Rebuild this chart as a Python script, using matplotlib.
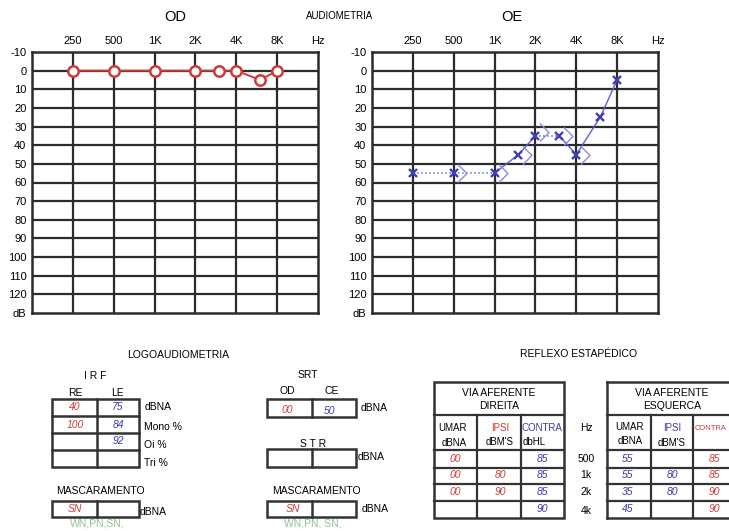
import numpy as np
import matplotlib
matplotlib.use("Agg")
import matplotlib.pyplot as plt
from matplotlib.path import Path
from matplotlib.patches import Rectangle
import matplotlib.transforms as mtransforms

plt.rcParams['font.family'] = ['Liberation Sans', 'DejaVu Sans']

# ---------------- data ----------------
freq_ticks = [250, 500, 1000, 2000, 4000, 8000]
freq_labels = ['250', '500', '1K', '2K', '4K', '8K']
db_ticks = list(range(-10, 130, 10))

od_freqs = [250, 500, 1000, 2000, 3000, 4000, 6000, 8000]
od_db = [0, 0, 0, 0, 0, 0, 5, 0]

oe_freqs = [250, 500, 1000, 1500, 2000, 3000, 4000, 6000, 8000]
oe_db = [55, 55, 55, 45, 35, 35, 45, 25, 5]
oe_seg_styles = [':', ':', '-', '-', ':', '-', '-', '-']

oe_bc_freqs = [500, 1000, 1500, 2000, 3000, 4000]
oe_bc_db = [55, 55, 45, 33, 35, 45]

irf_re = ['40', '100', '', '']
irf_le = ['75', '84', '92', '']
irf_rows = ['dBNA', 'Mono %', 'Oi %', 'Tri %']

srt_od, srt_ce = '00', '50'
masc_logo = 'SN'
masc_srt = 'SN'

refl_hz = ['500', '1k', '2k', '4k']
dir_umar = ['00', '00', '00', '']
dir_ipsi = ['', '80', '90', '']
dir_contra = ['85', '85', '85', '90']
esq_umar = ['55', '55', '35', '45']
esq_ipsi = ['', '80', '80', '']
esq_contra = ['85', '85', '90', '90']

RED = '#cc3a3a'
BLUE = '#3a3aa8'
GREEN = '#8fc48f'
GRID = '#2b2b2b'

W, H = 729, 531
fig = plt.figure(figsize=(W / 100, H / 100), dpi=100)


def pos(f):
    return np.log2(np.asarray(f, dtype=float) / 125.0)


def make_audiogram(x0):
    ax = fig.add_axes([x0 / W, (H - 313) / H, 286 / W, 261 / H])
    ax.set_xlim(0, 7)
    ax.set_ylim(130, -10)
    for t in pos(freq_ticks):
        ax.axvline(t, color=GRID, lw=1.6, zorder=1)
    for d in db_ticks[1:]:
        ax.axhline(d, color=GRID, lw=1.6, zorder=1)
    for s in ax.spines.values():
        s.set_linewidth(1.8)
        s.set_color(GRID)
    ax.xaxis.tick_top()
    ax.set_xticks(list(pos(freq_ticks)) + [7])
    ax.set_xticklabels(freq_labels + ['Hz'], fontsize=8)
    ax.set_yticks(db_ticks + [130])
    ax.set_yticklabels([str(d) for d in db_ticks] + ['dB'], fontsize=8)
    ax.tick_params(length=0, pad=4)
    return ax


ax1 = make_audiogram(32)
ax1.plot(pos(od_freqs), od_db, color=RED, lw=1.4, marker='o', ms=7.5,
         mfc='white', mec=RED, mew=1.8, zorder=3)

ax2 = make_audiogram(372)
xs = pos(oe_freqs)
for i, ls in enumerate(oe_seg_styles):
    ax2.plot(xs[i:i + 2], oe_db[i:i + 2], color='#5a5ad0', lw=1.1, ls=ls,
             zorder=3, alpha=0.9)
ax2.plot(xs, oe_db, ls='none', marker='x', ms=6, mew=1.7, color='#4040b0', zorder=4)
bracket = Path([(-0.5, 1.0), (0.5, 0.0), (-0.5, -1.0)],
               [Path.MOVETO, Path.LINETO, Path.LINETO])
off = mtransforms.offset_copy(ax2.transData, fig=fig, x=6, y=0, units='points')
ax2.plot(pos(oe_bc_freqs), oe_bc_db, ls='none', marker=bracket, ms=13,
         mfc='none', mec='#8a8ae0', mew=1.0, transform=off, zorder=3)

# ---------------- overlay for text & tables ----------------
ov = fig.add_axes([0, 0, 1, 1])
ov.set_xlim(0, W)
ov.set_ylim(H, 0)
ov.axis('off')


def txt(x, y, s, size=7.5, color='black', ha='center', style='normal', **kw):
    ov.text(x, y, s, fontsize=size, color=color, ha=ha, va='center',
            style=style, **kw)


def box(x0, y0, x1, y1, lw=1.8):
    ov.add_patch(Rectangle((x0, y0), x1 - x0, y1 - y0, fill=False,
                           ec='#333333', lw=lw))


def vline(x, y0, y1, lw=1.8):
    ov.plot([x, x], [y0, y1], color='#333333', lw=lw)


def hline(y, x0, x1, lw=1.8):
    ov.plot([x0, x1], [y, y], color='#333333', lw=lw)


txt(175, 17, 'OD', size=10.5)
txt(340, 16, 'AUDIOMETRIA', size=7)
txt(512, 17, 'OE', size=10.5)

# LOGOAUDIOMETRIA
txt(178, 355, 'LOGOAUDIOMETRIA', size=7.5)
txt(95, 376, 'I R F', size=7.5)
txt(75, 393, 'RE', size=7.5)
txt(117, 393, 'LE', size=7.5)
rows_y = [399, 416, 433, 450, 467]
box(52, rows_y[0], 139, rows_y[-1])
vline(97, rows_y[0], rows_y[-1])
for yy in rows_y[1:-1]:
    hline(yy, 52, 139)
for i in range(4):
    yc = (rows_y[i] + rows_y[i + 1]) / 2
    if irf_re[i]:
        txt(75, yc, irf_re[i], color=RED, style='italic')
    if irf_le[i]:
        txt(118, yc, irf_le[i], color=BLUE, style='italic')
    txt(144 if i != 0 else 145, yc + (0 if i == 0 else 2 + i), irf_rows[i],
        size=7.5, ha='left')

txt(100, 491, 'MASCARAMENTO', size=7.5)
box(52, 501, 139, 517)
vline(97, 501, 517)
txt(75, 509, masc_logo, color=RED, style='italic')
txt(140, 512, 'dBNA', size=7.5, ha='left')
txt(97, 524, 'WN,PN,SN,', color=GREEN, size=7.5)

# SRT
txt(308, 375, 'SRT', size=7.5)
txt(287, 391, 'OD', size=7.5)
txt(332, 391, 'CE', size=7.5)
box(267, 399, 356, 417)
vline(312, 399, 417)
txt(287, 410, srt_od, color=RED, style='italic')
txt(330, 411, srt_ce, color=BLUE, style='italic')
txt(361, 408, 'dBNA', size=7.5, ha='left')

txt(313, 444, 'S T R', size=7.5)
box(267, 449, 356, 467)
vline(312, 449, 467)
txt(358, 457, 'dBNA', size=7.5, ha='left')

txt(316, 491, 'MASCARAMENTO', size=7.5)
box(267, 501, 356, 517)
vline(312, 501, 517)
txt(293, 509, masc_srt, color=RED, style='italic')
txt(362, 509, 'dBNA', size=7.5, ha='left')
txt(313, 524, 'WN,PN, SN,', color=GREEN, size=7.5)

# REFLEXO ESTAPEDICO
txt(579, 354, 'REFLEXO ESTAPÉDICO', size=7.5)
r_y = [382, 415, 450, 468, 484, 501, 518]

# left table
box(434, r_y[0], 564, r_y[-1])
for yy in r_y[1:-1]:
    hline(yy, 434, 564, lw=1.6)
vline(477, r_y[1], r_y[-1], lw=1.6)
vline(521, r_y[1], r_y[-1], lw=1.6)
txt(499, 393, 'VIA AFERENTE', size=7.5)
txt(499, 406, 'DIREITA', size=7.5)
txt(438, 428, 'UMAR', size=7, ha='left')
txt(442, 443, 'dBNA', size=7, ha='left')
txt(500, 428, 'IPSI', size=7, color=RED)
txt(500, 442, "dBM'S", size=7)
txt(542, 428, 'CONTRA', size=7, color=BLUE)
txt(523, 442, 'dbHL', size=7, ha='left')

# Hz column
txt(586, 428, 'Hz', size=7.5)
hz_y = [459, 475, 492, 511]
for i, h in enumerate(refl_hz):
    txt(586, hz_y[i], h, size=7.5)

# right table (cut at the figure edge)
hline(r_y[0], 607, 735)
hline(r_y[-1], 607, 735)
vline(607, r_y[0], r_y[-1])
for yy in r_y[1:-1]:
    hline(yy, 607, 735, lw=1.6)
vline(651, r_y[1], r_y[-1], lw=1.6)
vline(693, r_y[1], r_y[-1], lw=1.6)
txt(672, 393, 'VIA AFERENTE', size=7.5)
txt(672, 406, 'ESQUERCA', size=7.5)
txt(630, 427, 'UMAR', size=7)
txt(630, 441, 'dBNA', size=7)
txt(672, 428, 'IPSI', size=7, color=BLUE)
txt(672, 443, "dBM'S", size=7)
txt(711, 428, 'CONTRA', size=5.4, color=RED, ha='center')

data_y = [459, 475, 492, 509]
for i in range(4):
    yc = data_y[i]
    if dir_umar[i]:
        txt(455, yc, dir_umar[i], color=RED, style='italic')
    if dir_ipsi[i]:
        txt(500, yc, dir_ipsi[i], color=RED, style='italic')
    if dir_contra[i]:
        txt(542, yc, dir_contra[i], color=BLUE, style='italic')
    if esq_umar[i]:
        txt(628, yc, esq_umar[i], color=BLUE, style='italic')
    if esq_ipsi[i]:
        txt(672, yc, esq_ipsi[i], color=BLUE, style='italic')
    if esq_contra[i]:
        txt(714, yc, esq_contra[i], color=RED, style='italic')

fig.savefig('out.png', dpi=100)
